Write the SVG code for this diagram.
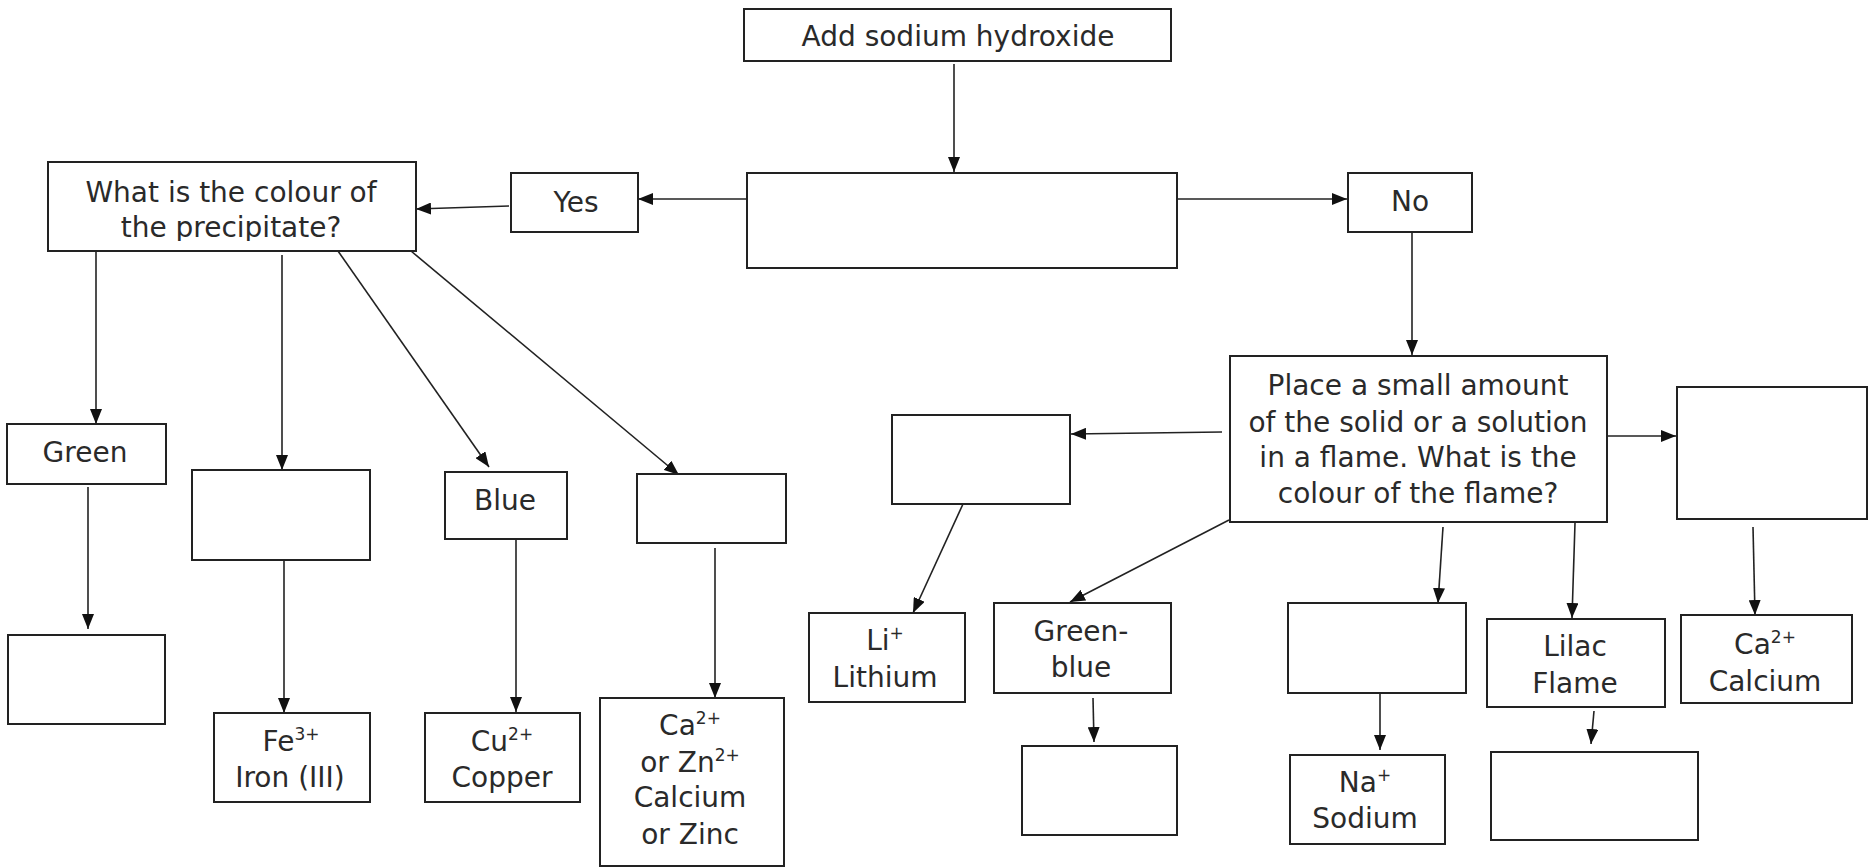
<svg xmlns="http://www.w3.org/2000/svg" width="1870" height="868" viewBox="0 0 1870 868">
<style>
.box{fill:#fff;stroke:#222;stroke-width:2}
.t{font-family:"DejaVu Sans","Liberation Sans",sans-serif;font-size:28px;fill:#2a2a2a;text-anchor:middle}
.sup{font-size:17px}
.c{fill:none;stroke:#222;stroke-width:1.6;marker-end:url(#ah)}
</style>
<defs>
<marker id="ah" markerUnits="userSpaceOnUse" markerWidth="15" markerHeight="12" refX="15" refY="6" orient="auto" viewBox="0 0 15 12">
<path d="M0,0 L15,6 L0,12 z" fill="#111"/>
</marker>
<clipPath id="qclip"><rect x="48" y="162" width="368" height="79"/></clipPath>
</defs>
<rect width="1870" height="868" fill="#fff"/>
<g id="connectors">
<line class="c" x1="954" y1="64" x2="954" y2="172"/>
<line class="c" x1="747" y1="199" x2="638" y2="199"/>
<line class="c" x1="1169" y1="199" x2="1347" y2="199"/>
<line class="c" x1="509" y1="206" x2="416" y2="209"/>
<line class="c" x1="1412" y1="233" x2="1412" y2="355"/>
<line class="c" x1="96" y1="251" x2="96" y2="424"/>
<line class="c" x1="282" y1="255" x2="282" y2="470"/>
<line class="c" x1="338" y1="251" x2="489" y2="467"/>
<line class="c" x1="411" y1="251" x2="679" y2="475"/>
<line class="c" x1="88" y1="487" x2="88" y2="629"/>
<line class="c" x1="284" y1="560" x2="284" y2="713"/>
<line class="c" x1="516" y1="537" x2="516" y2="712"/>
<line class="c" x1="715" y1="548" x2="715" y2="698"/>
<line class="c" x1="1222" y1="432" x2="1071" y2="434"/>
<line class="c" x1="963" y1="504" x2="913" y2="613"/>
<line class="c" x1="1229" y1="520" x2="1070" y2="602"/>
<line class="c" x1="1093" y1="698" x2="1094" y2="742"/>
<line class="c" x1="1443" y1="527" x2="1438" y2="603"/>
<line class="c" x1="1380" y1="693" x2="1380" y2="750"/>
<line class="c" x1="1575" y1="523" x2="1572" y2="618"/>
<line class="c" x1="1594" y1="711" x2="1591" y2="744"/>
<line class="c" x1="1607" y1="436" x2="1676" y2="436"/>
<line class="c" x1="1753" y1="527" x2="1755" y2="615"/>
</g>
<g id="n_top"><rect class="box" x="744" y="9" width="427" height="52"/><text class="t" x="958" y="46">Add sodium hydroxide</text></g>
<g id="n_central"><rect class="box" x="747" y="173" width="430" height="95"/></g>
<g id="n_yes"><rect class="box" x="511" y="173" width="127" height="59"/><text class="t" x="576" y="212">Yes</text></g>
<g id="n_no"><rect class="box" x="1348" y="173" width="124" height="59"/><text class="t" x="1410" y="211">No</text></g>
<g id="n_question"><rect class="box" x="48" y="162" width="368" height="89"/>
<g clip-path="url(#qclip)"><text class="t" x="231" y="202">What is the colour of</text><text class="t" x="231" y="237">the precipitate?</text></g></g>
<g id="n_green"><rect class="box" x="7" y="424" width="159" height="60"/><text class="t" x="85" y="462">Green</text></g>
<g id="n_green_result"><rect class="box" x="8" y="635" width="157" height="89"/></g>
<g id="n_colour2"><rect class="box" x="192" y="470" width="178" height="90"/></g>
<g id="n_fe"><rect class="box" x="214" y="713" width="156" height="89"/><text class="t" x="291" y="751">Fe<tspan class="sup" dy="-11">3+</tspan></text><text class="t" x="290" y="787">Iron (III)</text></g>
<g id="n_blue"><rect class="box" x="445" y="472" width="122" height="67"/><text class="t" x="505" y="510">Blue</text></g>
<g id="n_cu"><rect class="box" x="425" y="713" width="155" height="89"/><text class="t" x="502" y="751">Cu<tspan class="sup" dy="-11">2+</tspan></text><text class="t" x="502" y="787">Copper</text></g>
<g id="n_colour4"><rect class="box" x="637" y="474" width="149" height="69"/></g>
<g id="n_cazn"><rect class="box" x="600" y="698" width="184" height="168"/><text class="t" x="690" y="735">Ca<tspan class="sup" dy="-11">2+</tspan></text><text class="t" x="690" y="772">or Zn<tspan class="sup" dy="-11">2+</tspan></text><text class="t" x="690" y="807">Calcium</text><text class="t" x="690" y="844">or Zinc</text></g>
<g id="n_place"><rect class="box" x="1230" y="356" width="377" height="166"/><text class="t" x="1418" y="395">Place a small amount</text><text class="t" x="1418" y="432">of the solid or a solution</text><text class="t" x="1418" y="467">in a flame. What is the</text><text class="t" x="1418" y="503">colour of the flame?</text></g>
<g id="n_flame_left"><rect class="box" x="892" y="415" width="178" height="89"/></g>
<g id="n_li"><rect class="box" x="809" y="613" width="156" height="89"/><text class="t" x="885" y="650">Li<tspan class="sup" dy="-11">+</tspan></text><text class="t" x="885" y="687">Lithium</text></g>
<g id="n_greenblue"><rect class="box" x="994" y="603" width="177" height="90"/><text class="t" x="1081" y="641">Green-</text><text class="t" x="1081" y="677">blue</text></g>
<g id="n_gb_result"><rect class="box" x="1022" y="746" width="155" height="89"/></g>
<g id="n_flame_mid"><rect class="box" x="1288" y="603" width="178" height="90"/></g>
<g id="n_na"><rect class="box" x="1290" y="755" width="155" height="89"/><text class="t" x="1365" y="792">Na<tspan class="sup" dy="-11">+</tspan></text><text class="t" x="1365" y="828">Sodium</text></g>
<g id="n_lilac"><rect class="box" x="1487" y="619" width="178" height="88"/><text class="t" x="1575" y="656">Lilac</text><text class="t" x="1575" y="693">Flame</text></g>
<g id="n_lilac_result"><rect class="box" x="1491" y="752" width="207" height="88"/></g>
<g id="n_flame_right"><rect class="box" x="1677" y="387" width="190" height="132"/></g>
<g id="n_ca"><rect class="box" x="1681" y="615" width="171" height="88"/><text class="t" x="1765" y="654">Ca<tspan class="sup" dy="-11">2+</tspan></text><text class="t" x="1765" y="691">Calcium</text></g>
</svg>
